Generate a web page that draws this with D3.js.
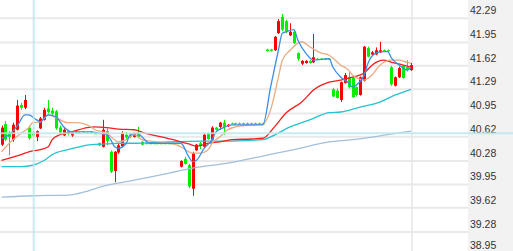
<!DOCTYPE html>
<html lang="en">

<head>
    <meta charset="UTF-8">
    <title>kline</title>
    <style>
        html, body {
            margin: 0;
            padding: 0;
            background: #fff;
            overflow: hidden;
        }

        .axis text {
            font-family: "Liberation Sans", Arial, sans-serif;
            font-size: 10.5px;
            fill: #333;
        }
    </style>
</head>

<body>
    <script src="https://d3js.org/d3.v7.min.js"></script>
    <svg id="svg"></svg>
    <script>
        // daily bars, left to right
        var open = [40.51, 40.80, 40.68, 40.58, 40.72, 41.07, 41.03, 40.75, 40.68, 40.62,
            40.74, 40.86, 41.02, 40.99, 40.98, 40.75, 40.64, 40.70, 40.64, 40.69,
            40.68, 40.69, 40.68, 40.69, 40.67, 40.53, 40.48, 40.70, 40.41, 40.14,
            40.40, 40.49, 40.65, 40.65, 40.62, 40.66, 40.55, 40.53, 40.53, 40.53,
            40.53, 40.53, 40.53, 40.53, 40.53, 40.53, 40.20, 40.31, 40.22, 39.89,
            40.43, 40.53, 40.48, 40.67, 40.58, 40.75, 40.76, 40.82, 40.77, 40.81,
            40.81, 40.81, 40.81, 40.81, 40.81, 40.81, 40.81, 40.81, 41.85, 41.85,
            41.84, 42.08, 42.31, 42.25, 42.05, 42.10, 41.80, 41.65, 41.66, 41.69,
            41.67, 41.72, 41.72, 41.72, 41.72, 41.29, 41.27, 41.14, 41.38, 41.46,
            41.45, 41.32, 41.21, 41.41, 41.87, 41.78, 41.78, 41.81, 41.84, 41.84,
            41.60, 41.34, 41.46, 41.62, 41.60, 41.56];
        var high = [40.78, 40.84, 40.70, 40.82, 41.14, 41.10, 41.21, 40.78, 40.70, 40.71,
            40.90, 41.03, 41.14, 41.03, 41.00, 40.78, 40.74, 40.72, 40.69, 40.70,
            40.69, 40.70, 40.69, 40.70, 40.68, 40.54, 40.86, 40.74, 40.43, 40.42,
            40.53, 40.70, 40.69, 40.67, 40.68, 40.76, 40.56, 40.54, 40.54, 40.54,
            40.54, 40.54, 40.54, 40.54, 40.54, 40.54, 40.29, 40.34, 40.24, 40.41,
            40.52, 40.55, 40.67, 40.68, 40.77, 40.76, 40.83, 40.86, 40.80, 40.82,
            40.82, 40.82, 40.82, 40.82, 40.82, 40.82, 40.82, 40.82, 41.86, 41.86,
            42.04, 42.28, 42.35, 42.27, 42.22, 42.12, 41.81, 41.70, 41.70, 41.70,
            42.07, 41.73, 41.73, 41.73, 41.73, 41.31, 41.30, 41.40, 41.52, 41.53,
            41.47, 41.33, 41.47, 41.90, 41.89, 41.83, 41.88, 41.96, 41.85, 41.85,
            41.62, 41.47, 41.61, 41.63, 41.70, 41.66];
        var low = [40.49, 40.56, 40.36, 40.55, 40.71, 41.00, 41.01, 40.58, 40.62, 40.56,
            40.73, 40.85, 40.95, 40.93, 40.72, 40.66, 40.63, 40.64, 40.62, 40.67,
            40.66, 40.67, 40.67, 40.66, 40.66, 40.49, 40.47, 40.50, 40.11, 39.98,
            40.38, 40.47, 40.59, 40.60, 40.61, 40.60, 40.50, 40.52, 40.52, 40.52,
            40.52, 40.52, 40.52, 40.52, 40.52, 40.52, 40.19, 40.23, 39.90, 39.79,
            40.42, 40.45, 40.47, 40.58, 40.57, 40.71, 40.72, 40.65, 40.76, 40.80,
            40.80, 40.80, 40.80, 40.80, 40.80, 40.80, 40.80, 40.80, 41.82, 41.82,
            41.83, 42.07, 42.11, 42.08, 42.04, 41.93, 41.69, 41.63, 41.65, 41.65,
            41.66, 41.71, 41.71, 41.71, 41.71, 41.18, 41.16, 41.11, 41.37, 41.30,
            41.17, 41.19, 41.20, 41.40, 41.74, 41.77, 41.77, 41.80, 41.82, 41.82,
            41.34, 41.33, 41.45, 41.44, 41.54, 41.55];
        var close = [40.75, 40.58, 40.62, 40.79, 41.06, 41.03, 41.14, 40.60, 40.64, 40.70,
            40.88, 41.00, 40.97, 40.95, 40.74, 40.68, 40.72, 40.66, 40.68, 40.67,
            40.67, 40.68, 40.67, 40.67, 40.67, 40.50, 40.72, 40.56, 40.13, 40.41,
            40.50, 40.67, 40.61, 40.62, 40.67, 40.62, 40.51, 40.53, 40.53, 40.53,
            40.53, 40.53, 40.53, 40.53, 40.53, 40.53, 40.28, 40.24, 39.92, 40.39,
            40.51, 40.49, 40.65, 40.59, 40.75, 40.72, 40.82, 40.76, 40.79, 40.81,
            40.81, 40.81, 40.81, 40.81, 40.81, 40.81, 40.81, 40.81, 41.83, 41.83,
            42.03, 42.25, 42.13, 42.10, 42.10, 41.94, 41.72, 41.69, 41.69, 41.66,
            41.74, 41.72, 41.72, 41.72, 41.72, 41.19, 41.17, 41.39, 41.49, 41.32,
            41.18, 41.21, 41.46, 41.89, 41.75, 41.81, 41.84, 41.84, 41.83, 41.83,
            41.36, 41.46, 41.59, 41.45, 41.56, 41.63];

        // moving averages: [bar index, price]
        var ma5 = [[0, 40.60], [2, 40.65], [4, 40.77], [6, 40.93], [7, 40.93], [9, 40.86], [10, 40.83],
            [11, 40.89], [12, 40.93], [14, 40.90], [16, 40.76], [18, 40.69], [23, 40.69], [25, 40.67],
            [27, 40.65], [28, 40.58], [29, 40.48], [30, 40.46], [32, 40.53], [33, 40.65], [35, 40.67],
            [36, 40.62], [38, 40.53], [46, 40.53], [48, 40.34], [49, 40.27], [50, 40.29], [52, 40.46],
            [54, 40.58], [55, 40.69], [57, 40.75], [59, 40.79], [67, 40.79], [69, 41.32], [71, 41.84],
            [72, 42.08], [73, 42.10], [75, 42.13], [76, 41.98], [78, 41.80], [80, 41.70], [84, 41.72],
            [85, 41.60], [87, 41.46], [89, 41.38], [90, 41.32], [91, 41.35], [93, 41.49], [94, 41.66],
            [96, 41.80], [98, 41.82], [99, 41.82], [100, 41.73], [102, 41.63], [103, 41.59],
            [104, 41.56], [105, 41.60]];
        var ma10 = [[0, 40.41], [2, 40.53], [5, 40.67], [7, 40.75], [8, 40.82], [10, 40.83], [12, 40.93],
            [14, 40.89], [17, 40.82], [19, 40.82], [22, 40.79], [24, 40.72], [27, 40.67], [29, 40.58],
            [30, 40.55], [32, 40.58], [34, 40.65], [36, 40.58], [40, 40.55], [43, 40.53], [46, 40.48],
            [48, 40.41], [49, 40.39], [51, 40.39], [53, 40.44], [54, 40.53], [56, 40.62], [58, 40.72],
            [60, 40.76], [64, 40.79], [67, 40.80], [69, 41.00], [71, 41.46], [72, 41.70], [74, 41.84],
            [76, 41.94], [77, 41.96], [79, 41.89], [82, 41.80], [84, 41.77], [87, 41.63], [89, 41.56],
            [90, 41.49], [93, 41.42], [95, 41.49], [97, 41.63], [100, 41.70], [102, 41.70],
            [104, 41.67], [105, 41.66]];
        var ma20 = [[0, 40.29], [2, 40.32], [5, 40.37], [7, 40.41], [10, 40.44], [12, 40.48], [13, 40.58],
            [15, 40.65], [18, 40.69], [22, 40.75], [24, 40.76], [27, 40.75], [30, 40.73], [34, 40.72],
            [37, 40.67], [41, 40.62], [44, 40.58], [48, 40.52], [50, 40.49], [53, 40.53], [56, 40.55],
            [59, 40.58], [64, 40.59], [67, 40.60], [70, 40.76], [73, 40.96], [77, 41.11], [80, 41.28],
            [84, 41.39], [87, 41.42], [90, 41.46], [93, 41.52], [95, 41.63], [98, 41.70], [100, 41.67],
            [103, 41.63], [105, 41.60]];
        var ma30 = [[0, 40.20], [5, 40.20], [8, 40.22], [11, 40.29], [13, 40.37], [17, 40.44], [20, 40.48],
            [23, 40.51], [27, 40.52], [30, 40.53], [35, 40.53], [43, 40.55], [51, 40.56], [59, 40.56],
            [67, 40.58], [69, 40.62], [74, 40.76], [79, 40.86], [84, 40.96], [87, 40.97], [92, 41.04],
            [97, 41.11], [101, 41.21], [105, 41.29]];
        var ma60 = [[0, 39.77], [8, 39.79], [17, 39.80], [21, 39.84], [25, 39.91], [34, 40.01], [43, 40.11],
            [49, 40.18], [58, 40.25], [67, 40.35], [75, 40.44], [84, 40.55], [90, 40.58], [99, 40.65],
            [105, 40.70]];

        var tickValues = [42.29, 41.95, 41.62, 41.29, 40.95, 40.62, 40.28, 39.95, 39.62, 39.28, 38.95];
        var tickLabels = ["42.29", "41.95", "41.62", "41.29", "40.95", "40.62", "40.28", "39.95", "39.62", "39.28", "38.95"];

        var cursorBar = 8,
            cursorPrice = 40.67;

        var w = 513,
            h = 251,
            plotW = 468;

        var svg = d3.select("#svg")
            .attr("width", w)
            .attr("height", h);

        var x = d3.scaleLinear().domain([0, open.length - 1]).range([1.5, 411]);
        var y = d3.scaleLinear().domain([38.95, 42.29]).range([255.4, 18.3]);

        svg.append("defs").append("clipPath").attr("id", "plot")
            .append("rect").attr("x", 0).attr("y", 0).attr("width", plotW).attr("height", h);

        // price panel on the right
        svg.append("rect")
            .attr("x", plotW).attr("y", 0)
            .attr("width", w - plotW).attr("height", h)
            .attr("fill", "#f2f2f2");

        var grid = svg.append("g");
        grid.selectAll("line")
            .data(tickValues)
            .enter().append("line")
            .attr("x1", 0).attr("x2", plotW)
            .attr("y1", (d) => y(d)).attr("y2", (d) => y(d))
            .attr("stroke", "#e9e9e9")
            .attr("stroke-width", 2);

        grid.append("line")
            .attr("x1", x(open.length - 1) + 1).attr("x2", x(open.length - 1) + 1)
            .attr("y1", 0).attr("y2", h)
            .attr("stroke", "#e6e6e6")
            .attr("stroke-width", 1.5);

        var axis = d3.axisRight(y)
            .tickValues(tickValues)
            .tickFormat((d, i) => tickLabels[i])
            .tickSize(0);

        var gAxis = svg.append("g")
            .attr("class", "axis")
            .attr("transform", "translate(" + (plotW + 2) + ",0)")
            .call(axis);
        gAxis.select(".domain").remove();
        // labels sit just above their grid line; keep the lowest one inside the window
        gAxis.selectAll("text")
            .attr("x", 0)
            .attr("dy", (d) => (Math.min(y(d) - 4.5, h - 3) - y(d)) + "px")
            .attr("text-anchor", "start");

        var bars = d3.range(open.length).map(function (i) {
            return { i: i, o: open[i], h: high[i], l: low[i], c: close[i] };
        });
        var colour = (d) => d.c >= d.o && !(d.c == d.o && d.h - d.l < 0.03) ? "#ff0000" : "#00ee00";

        var plot = svg.append("g").attr("clip-path", "url(#plot)");

        var candles = plot.append("g")
            .selectAll("g")
            .data(bars)
            .enter().append("g");

        candles.append("line")
            .attr("x1", (d) => Math.round(x(d.i)) + 0.5)
            .attr("x2", (d) => Math.round(x(d.i)) + 0.5)
            .attr("y1", (d) => y(d.h))
            .attr("y2", (d) => y(d.l))
            .attr("stroke", colour)
            .attr("stroke-width", 1);

        candles.append("rect")
            .attr("x", (d) => Math.round(x(d.i)) - 1)
            .attr("y", (d) => y(Math.max(d.o, d.c)))
            .attr("width", 3)
            .attr("height", (d) => Math.max(1, Math.abs(y(d.o) - y(d.c))))
            .attr("fill", colour);

        var line = d3.line()
            .x((d) => x(d[0]))
            .y((d) => y(d[1]))
            .curve(d3.curveMonotoneX);

        var mas = [
            { data: ma60, color: "#a3c0da" },
            { data: ma30, color: "#25c3cf" },
            { data: ma20, color: "#f21d1d" },
            { data: ma10, color: "#eaac80" },
            { data: ma5, color: "#3a8ee8" }
        ];

        plot.append("g")
            .selectAll("path")
            .data(mas)
            .enter().append("path")
            .attr("d", (d) => line(d.data))
            .attr("fill", "none")
            .attr("stroke", (d) => d.color)
            .attr("stroke-width", 1.3);

        // crosshair
        svg.append("line")
            .attr("x1", 0).attr("x2", w)
            .attr("y1", y(cursorPrice)).attr("y2", y(cursorPrice))
            .attr("stroke", "#b9e6ea")
            .attr("stroke-opacity", 0.8)
            .attr("stroke-width", 2);
        svg.append("line")
            .attr("x1", x(cursorBar) + 1).attr("x2", x(cursorBar) + 1)
            .attr("y1", 0).attr("y2", h)
            .attr("stroke", "#b9e6ea")
            .attr("stroke-opacity", 0.8)
            .attr("stroke-width", 2);
    </script>
</body>

</html>
